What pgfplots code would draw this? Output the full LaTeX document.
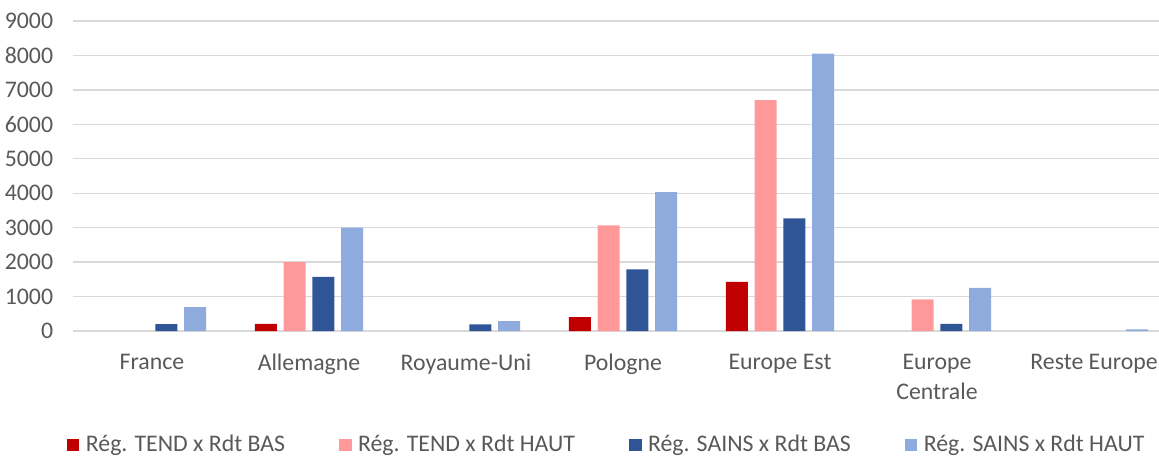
\documentclass[border=0pt]{standalone}
\usepackage{fontspec}
\setmainfont{Carlito}
\usepackage{pgfplots}
\pgfplotsset{compat=1.18}
\definecolor{cRed}{HTML}{C00000}
\definecolor{cPink}{HTML}{FF9999}
\definecolor{cDark}{HTML}{2F5597}
\definecolor{cLight}{HTML}{8FAADC}
\definecolor{gridc}{HTML}{D9D9D9}
\definecolor{txt}{HTML}{595959}

\pgfplotstableread{
x tb th sb sh
0 nan  nan  200  690
1 210  2000 1570 3000
2 nan  nan  190  290
3 400  3070 1790 4030
4 1430 6700 3270 8050
5 nan  920  210  1250
6 nan  nan  nan  50
}\data

\begin{document}
\begin{tikzpicture}
\useasboundingbox (-36.75pt,-62pt) rectangle (542.75pt,165.5pt);
\begin{axis}[
  scale only axis, width=542.75pt, height=155pt,
  xmin=-0.5, xmax=6.414, ymin=0, ymax=9000,
  ybar=3.35pt, bar width=11pt,
  axis line style={draw=none},
  major tick length=0pt,
  ymajorgrids, grid style={draw=gridc, line width=0.7pt},
  xtick={0,...,6},
  xticklabels={France, Allemagne, Royaume-Uni, Pologne, Europe Est, {Europe\\Centrale}, Reste Europe},
  ytick={0,1000,...,9000},
  scaled y ticks=false,
  /pgf/number format/assume math mode=true,
  /pgf/number format/1000 sep={},
  yticklabel style={font=\fontsize{11.9}{14}\selectfont, text=txt, inner sep=0pt, xshift=-10pt},
  xticklabel style={font=\fontsize{11.9}{15}\selectfont, text=txt, inner sep=0pt, align=center, yshift=-11.5pt},
  legend columns=4,
  legend image code/.code={\path[#1,draw=none] (0pt,-3.125pt) rectangle (6.25pt,3.125pt);},
  legend style={draw=none, at={(0,0)}, anchor=west, xshift=-3.5pt, yshift=-57pt,
    inner sep=0pt, font=\fontsize{11.9}{14}\selectfont, text=txt,
    nodes={inner sep=0pt},
    /tikz/every odd column/.append style={column sep=3.25pt},
    /tikz/every even column/.append style={column sep=27pt}},
  clip=false,
  unbounded coords=discard,
]
\addplot[fill=cRed, draw=none] table[x=x, y=tb] {\data};
\addplot[fill=cPink, draw=none] table[x=x, y=th] {\data};
\addplot[fill=cDark, draw=none] table[x=x, y=sb] {\data};
\addplot[fill=cLight, draw=none] table[x=x, y=sh] {\data};
\legend{Rég. TEND x Rdt BAS, Rég. TEND x Rdt HAUT, Rég. SAINS x Rdt BAS, Rég. SAINS x Rdt HAUT}
\end{axis}
\end{tikzpicture}
\end{document}
